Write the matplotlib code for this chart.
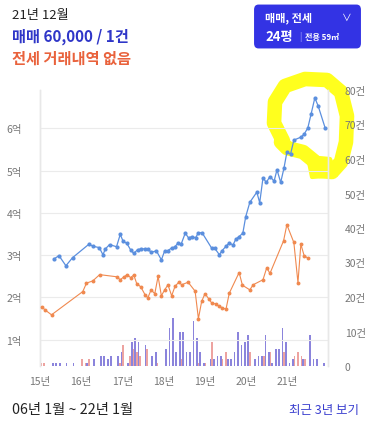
import matplotlib
matplotlib.use("Agg")
import matplotlib.pyplot as plt
import numpy as np
from matplotlib.patches import FancyBboxPatch
from matplotlib.path import Path
from matplotlib.patches import PathPatch

plt.rcParams['font.family'] = ['Noto Sans CJK KR', 'DejaVu Sans']

# ---- data ----
sale_t = [15.34, 15.46, 15.63, 15.79, 16.19, 16.29, 16.44, 16.53, 16.59, 16.69, 16.86, 16.95,
          17.02, 17.11, 17.20, 17.28, 17.37, 17.46, 17.54, 17.62, 17.70, 17.83, 17.95,
          18.03, 18.11, 18.20, 18.27, 18.35, 18.43, 18.53, 18.61, 18.70, 18.78, 18.85, 18.94,
          19.17, 19.25, 19.36, 19.42, 19.52, 19.60, 19.69, 19.76, 19.84, 19.93,
          20.00, 20.10, 20.27, 20.34, 20.42, 20.50, 20.59, 20.69, 20.76, 20.85, 20.93,
          21.00, 21.09, 21.17, 21.34, 21.42, 21.51, 21.59, 21.68, 21.76, 21.93]
sale_p = [2.91, 2.99, 2.75, 2.94, 3.26, 3.21, 3.18, 3.01, 3.15, 3.25, 3.20, 3.49,
          3.33, 3.28, 3.13, 3.04, 3.13, 3.15, 3.15, 3.15, 3.07, 3.10, 2.89,
          3.10, 3.11, 3.17, 3.19, 3.28, 3.26, 3.52, 3.41, 3.44, 3.41, 3.53, 3.53,
          3.17, 3.16, 3.01, 3.10, 3.21, 3.29, 3.24, 3.38, 3.44, 3.52,
          3.91, 4.25, 4.49, 4.24, 4.83, 4.72, 4.86, 4.75, 5.02, 4.72, 5.06,
          5.43, 5.39, 5.72, 5.79, 5.86, 6.01, 6.34, 6.72, 6.53, 6.01]

jeonse_t = [15.04, 15.13, 15.28, 16.04, 16.13, 16.28, 16.45, 16.86, 16.95,
            17.03, 17.12, 17.20, 17.28, 17.35, 17.45, 17.55, 17.62, 17.70, 17.79, 17.87, 17.95,
            18.03, 18.11, 18.20, 18.28, 18.38, 18.44, 18.60, 18.77, 18.85, 18.93,
            19.01, 19.10, 19.18, 19.27, 19.35, 19.43, 19.52, 19.60, 19.84, 19.92,
            20.10, 20.18, 20.42, 20.51, 20.59, 20.92,
            21.00, 21.17, 21.27, 21.34, 21.42, 21.51]
jeonse_p = [1.78, 1.70, 1.59, 2.14, 2.34, 2.39, 2.54, 2.49, 2.42,
            2.48, 2.54, 2.47, 2.53, 2.33, 2.25, 2.07, 1.99, 2.18, 2.09, 2.50, 2.04,
            2.18, 2.30, 2.04, 2.26, 2.37, 2.30, 2.36, 2.15, 1.50, 1.91,
            2.09, 1.97, 1.86, 1.85, 1.79, 1.76, 1.72, 2.10, 2.59, 2.29,
            2.18, 2.30, 2.42, 2.70, 2.57, 3.34,
            3.72, 3.30, 2.35, 3.26, 2.99, 2.93]

# monthly transaction counts, 2015-01 .. 2021-12
sale_cnt = [0, 0, 0, 1, 1, 1, 0, 1, 0, 1, 0, 0,
            0, 1, 0, 2, 0, 3, 3, 2, 3, 0, 3, 4,
            0, 1, 7, 8, 7, 0, 6, 0, 3, 4, 0, 0,
            5, 11, 14, 4, 10, 10, 4, 4, 13, 8, 4, 1,
            0, 2, 2, 3, 3, 0, 2, 2, 4, 10, 6, 7,
            9, 0, 2, 3, 3, 9, 4, 1, 5, 5, 11, 7,
            1, 2, 0, 0, 2, 0, 9, 2, 2, 0, 1, 0]
jeonse_cnt = [1, 1, 0, 0, 0, 0, 0, 0, 0, 0, 0, 0,
              2, 1, 2, 0, 0, 0, 0, 0, 0, 0, 0, 1,
              6, 0, 3, 5, 4, 3, 0, 5, 0, 0, 1, 0,
              0, 0, 0, 0, 0, 2, 0, 0, 0, 0, 1, 0,
              1, 0, 7, 0, 0, 2, 4, 0, 0, 0, 0, 0,
              0, 4, 0, 0, 0, 3, 0, 4, 0, 0, 0, 4,
              0, 0, 3, 4, 3, 2, 0, 0, 0, 0, 0, 0]

year_ticks = [15, 16, 17, 18, 19, 20, 21]
year_labels = ['15년', '16년', '17년', '18년', '19년', '20년', '21년']
price_ticks = [1, 2, 3, 4, 5, 6]
price_labels = ['1억', '2억', '3억', '4억', '5억', '6억']
count_ticks = [0, 10, 20, 30, 40, 50, 60, 70, 80]
count_labels = ['0', '10건', '20건', '30건', '40건', '50건', '60건', '70건', '80건']

# ---- figure ----
W, H = 369, 431
fig = plt.figure(figsize=(W / 100, H / 100), dpi=100)
fig.patch.set_facecolor('white')

def fx(x):
    return x / W

def fy(y):
    return 1 - y / H

L, R, T, B = 40, 328, 91, 367
ax2 = fig.add_axes([fx(L), fy(B), (R - L) / W, (B - T) / H])
ax1 = ax2.twinx()
ax1.set_zorder(ax2.get_zorder() + 1)
ax1.patch.set_visible(False)

# yellow highlight (hand drawn loop), below lines and tick labels
loop_px = [(283, 142), (274, 124), (275, 103), (285, 87), (305, 80), (327, 81), (341, 93),
           (347, 117), (346, 143), (341, 163), (332, 173), (320, 172), (314, 162),
           (303, 153), (287, 149), (281, 143)]
verts = [(fx(x), fy(y)) for x, y in loop_px]
yp = PathPatch(Path(verts), transform=fig.transFigure, fill=False, edgecolor='#ffff1e',
               linewidth=10.5, joinstyle='round', capstyle='round', clip_on=False, zorder=0.5)
ax2.add_patch(yp)
blob_px = [(308, 158), (330, 160), (336, 176), (312, 178)]
blob = PathPatch(Path([(fx(x), fy(y)) for x, y in blob_px] + [(fx(308), fy(158))], closed=True),
                 transform=fig.transFigure, facecolor='#ffff1e', edgecolor='#ffff1e',
                 linewidth=3, joinstyle='round', clip_on=False, zorder=0.5)
ax2.add_patch(blob)

# bars on count axis (ax2), ticks shown on the right
months = np.arange(len(sale_cnt))
mx = 15 + (months + 0.5) / 12
ax2.bar(mx - 0.02, jeonse_cnt, width=0.04, color='#eda3a0', zorder=2, linewidth=0)
ax2.bar(mx + 0.02, sale_cnt, width=0.04, color='#8b84dc', zorder=2, linewidth=0)
ax2.set_ylim(0, 79.7)
ax2.set_xlim(15, 22)
ax2.yaxis.tick_right()
ax2.set_yticks(count_ticks)
ax2.set_yticklabels(count_labels)
ax2.tick_params(axis='y', length=0, pad=12, labelsize=7.5, labelcolor='#777777')
ax2.set_xticks(year_ticks)
ax2.set_xticklabels(year_labels)
ax2.tick_params(axis='x', length=0, pad=7, labelsize=7.5, labelcolor='#777777')

# lines on price axis
ax1.set_ylim(0.38, 6.905)
ax1.set_xlim(15, 22)
ax1.yaxis.tick_left()
ax1.set_yticks(price_ticks)
ax1.set_yticklabels(price_labels)
ax1.tick_params(axis='y', length=0, pad=13, labelsize=7.5, labelcolor='#777777')
ax2.set_axisbelow(True)
ax2.set_yticks([0.38 + 0 * 1], minor=False) if False else None
ax1.grid(axis='y', color='#ebebeb', linewidth=0.8, zorder=0)

for a in (ax1, ax2):
    for s in ('top', 'bottom'):
        a.spines[s].set_visible(False)
    for s in ('left', 'right'):
        a.spines[s].set_color('#e8e8e8')
        a.spines[s].set_linewidth(1.0)

ax1.plot(jeonse_t, jeonse_p, color='#f0894f', lw=0.8, marker='o', ms=2.8,
         markeredgewidth=0, zorder=3)
ax1.plot(sale_t, sale_p, color='#5b8fde', lw=0.9, marker='o', ms=3.0,
         markeredgewidth=0, zorder=4)

# ---- header text ----
fig.text(fx(12), fy(15), '21년 12월', fontsize=9.5, color='#222222', va='center', ha='left')
fig.text(fx(12), fy(37), '매매 60,000 / 1건', fontsize=11, color='#2f36c8',
         va='center', ha='left', fontweight='bold')
fig.text(fx(12), fy(58.5), '전세 거래내역 없음', fontsize=11, color='#e9623c',
         va='center', ha='left', fontweight='bold')

btn = FancyBboxPatch((fx(257), fy(46)), (358 - 257) / W, (46 - 9) / H,
                     boxstyle='round,pad=0.008,rounding_size=0.012',
                     transform=fig.transFigure, facecolor='#3333e4', edgecolor='none')
fig.patches.append(btn)
fig.text(fx(265), fy(18), '매매, 전세', fontsize=8, color='white', va='center', ha='left',
         fontweight='bold')
fig.text(fx(347), fy(18), '∨', fontsize=7, color='white', va='center', ha='center')
fig.text(fx(265), fy(37), '24평', fontsize=9.5, color='white', va='center', ha='left',
         fontweight='bold')
fig.text(fx(300), fy(37), '|', fontsize=6, color='#b8b8ff', va='center', ha='center')
fig.text(fx(305), fy(37.5), '전용 59㎡', fontsize=5.8, color='white', va='center', ha='left',
         fontweight='bold')

# ---- footer ----
fig.text(fx(12), fy(410), '06년 1월 ~ 22년 1월', fontsize=10.3, color='#222222',
         va='center', ha='left')
fig.text(fx(359), fy(411), '최근 3년 보기', fontsize=9, color='#3a3ecf',
         va='center', ha='right')

fig.savefig('out.png', dpi=100, facecolor='white')
